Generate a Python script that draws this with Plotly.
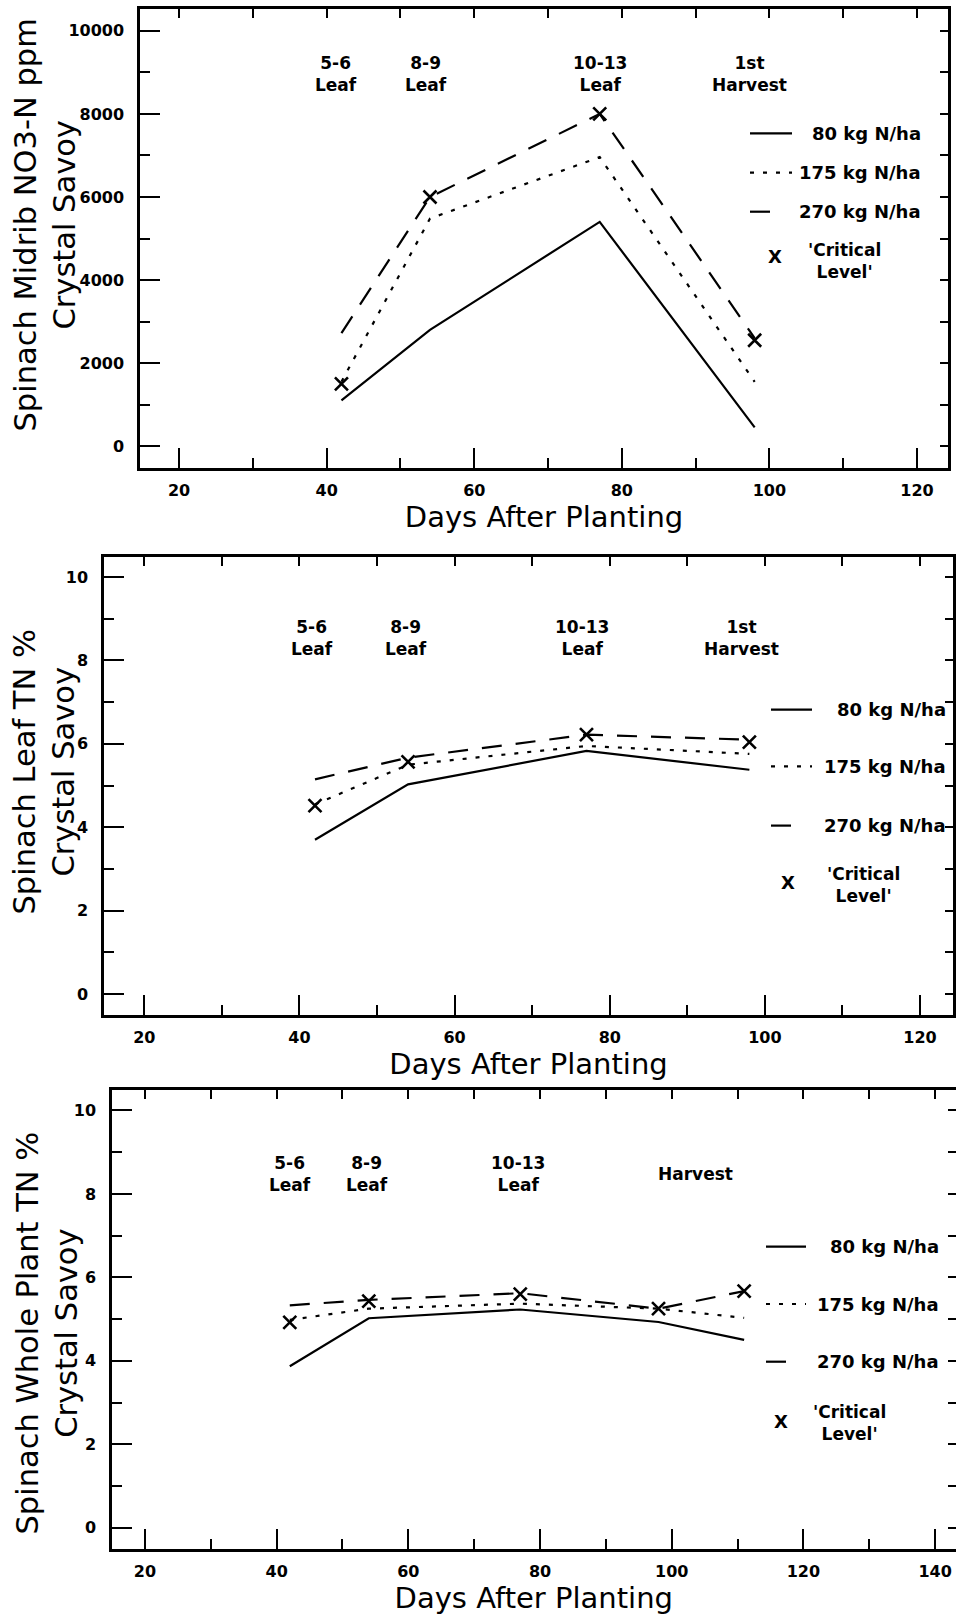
import plotly.graph_objects as go

# ---------------- data ----------------
days = [42, 54, 77, 98]
days_wp = [42, 54, 77, 98, 111]

midrib_80 = [1100, 2800, 5400, 450]
midrib_175 = [1550, 5480, 6960, 1550]
midrib_270 = [2720, 6000, 8000, 2600]
midrib_crit = [1500, 6000, 8000, 2550]

leaf_80 = [3.70, 5.03, 5.83, 5.38]
leaf_175 = [4.55, 5.50, 5.95, 5.76]
leaf_270 = [5.15, 5.67, 6.22, 6.10]
leaf_crit = [4.52, 5.57, 6.22, 6.04]

wp_80 = [3.87, 5.02, 5.23, 4.93, 4.50]
wp_175 = [4.98, 5.25, 5.37, 5.25, 5.03]
wp_270 = [5.33, 5.46, 5.62, 5.25, 5.67]
wp_crit = [4.92, 5.43, 5.60, 5.25, 5.67]

series_names = ["80 kg N/ha", "175 kg N/ha", "270 kg N/ha"]
crit_name = "'Critical<br>Level'"

stage_text_ab = ["5-6<br>Leaf", "8-9<br>Leaf", "10-13<br>Leaf", "1st<br>Harvest"]
stage_text_c = ["5-6<br>Leaf", "8-9<br>Leaf", "10-13<br>Leaf", "Harvest"]
stage_x_a = [41.3, 53.5, 77.0, 97.3]
stage_x_b = [41.6, 53.7, 76.4, 97.0]
stage_x_c = [42.0, 53.8, 76.7, 103.6]

x_ticks_ab = [20, 40, 60, 80, 100, 120]
x_ticks_c = [20, 40, 60, 80, 100, 120, 140]
y_ticks_midrib = [0, 2000, 4000, 6000, 8000, 10000]
y_ticks_pct = [0, 2, 4, 6, 8, 10]

y_titles = [
    "Spinach Midrib NO3-N ppm<br>Crystal Savoy",
    "Spinach Leaf TN %<br>Crystal Savoy",
    "Spinach Whole Plant TN %<br>Crystal Savoy",
]
x_title = "Days After Planting"

# ---------------- layout helpers ----------------
W, H = 956, 1615
FONT = "DejaVu Sans"
def fx(px):
    return px / W
def fy(py):
    return 1 - py / H

dash_styles = ["solid", "4px,9px", "20px,14px"]

panels = [
    dict(x=days, ys=[midrib_80, midrib_175, midrib_270], crit=midrib_crit,
         xdom=(140, 948), ydom=(9, 468), xr=[14.7, 124.2], yr=[-527, 10527],
         xt=x_ticks_ab, yt=y_ticks_midrib, xminor=10, yminor=1000,
         ytitle=y_titles[0], ytitle_pos=(44.5, 225),
         stage_x=stage_x_a, stage_text=stage_text_ab, stage_py=73.5,
         leg=dict(lx=(750, 792), rows=(133.3, 172.7, 211.7), tr=923,
                  xm=(775, 256.7), ct=(844, 261))),
    dict(x=days, ys=[leaf_80, leaf_175, leaf_270], crit=leaf_crit,
         xdom=(104, 953), ydom=(557, 1015), xr=[14.8, 124.25], yr=[-0.5, 10.48],
         xt=x_ticks_ab, yt=y_ticks_pct, xminor=10, yminor=1,
         ytitle=y_titles[1], ytitle_pos=(43.5, 772),
         stage_x=stage_x_b, stage_text=stage_text_ab, stage_py=638,
         leg=dict(lx=(771, 812), rows=(709.7, 766.3, 825.6), tr=948,
                  xm=(788, 882.9), ct=(863.5, 884.7))),
    dict(x=days_wp, ys=[wp_80, wp_175, wp_270], crit=wp_crit,
         xdom=(112, 955.5), ydom=(1090, 1549), xr=[15.0, 143.1], yr=[-0.51, 10.49],
         xt=x_ticks_c, yt=y_ticks_pct, xminor=10, yminor=1,
         ytitle=y_titles[2], ytitle_pos=(46.5, 1333),
         stage_x=stage_x_c, stage_text=stage_text_c, stage_py=1173.5,
         leg=dict(lx=(766, 806), rows=(1246.7, 1304, 1361.7), tr=941,
                  xm=(781, 1421), ct=(849, 1422.8))),
]

fig = go.Figure()
layout = dict(
    width=W, height=H, margin=dict(l=0, r=0, t=0, b=0),
    paper_bgcolor="white", plot_bgcolor="white", showlegend=False,
    font=dict(family=FONT, color="black"),
)
annotations = []
shapes = []

tick_font = dict(family=FONT, size=16, color="black", weight="bold")

for i, p in enumerate(panels, start=1):
    xa = "x" if i == 1 else f"x{i}"
    ya = "y" if i == 1 else f"y{i}"
    xkey = "xaxis" if i == 1 else f"xaxis{i}"
    ykey = "yaxis" if i == 1 else f"yaxis{i}"
    tx = f"x{i + 3}"
    ty = f"y{i + 3}"
    # data lines
    for ys, dsh, nm in zip(p["ys"], dash_styles, series_names):
        fig.add_trace(go.Scatter(x=p["x"], y=ys, mode="lines", name=nm,
                                 line=dict(color="black", width=2.2, dash=dsh),
                                 xaxis=xa, yaxis=ya))
    fig.add_trace(go.Scatter(x=p["x"], y=p["crit"], mode="markers", name="'Critical Level'",
                             marker=dict(symbol="x-thin", size=13, color="black",
                                         line=dict(color="black", width=2.6)),
                             xaxis=xa, yaxis=ya))
    # empty traces so the frame axes (top / right) are drawn
    fig.add_trace(go.Scatter(x=[], y=[], xaxis=tx, yaxis=ya, showlegend=False, hoverinfo="skip"))
    fig.add_trace(go.Scatter(x=[], y=[], xaxis=xa, yaxis=ty, showlegend=False, hoverinfo="skip"))

    xdom = [fx(p["xdom"][0]), fx(p["xdom"][1])]
    ydom = [fy(p["ydom"][1]), fy(p["ydom"][0])]
    layout[xkey] = dict(
        domain=xdom, anchor=ya, range=p["xr"], tickmode="array", tickvals=p["xt"],
        ticktext=[str(v) for v in p["xt"]],
        ticks="inside", ticklen=20, tickwidth=2, tickcolor="black",
        minor=dict(ticks="inside", ticklen=10, tickwidth=2, tickcolor="black",
                   dtick=p["xminor"], tick0=0),
        showline=True, linewidth=2.5, linecolor="black", mirror=False,
        showgrid=False, zeroline=False, tickfont=tick_font, ticklabelstandoff=6,
        title=dict(text=x_title, font=dict(family=FONT, size=29, color="black"), standoff=5),
    )
    layout[ykey] = dict(
        domain=ydom, anchor=xa, range=p["yr"], tickmode="array", tickvals=p["yt"],
        ticktext=[str(v) for v in p["yt"]],
        ticks="inside", ticklen=20, tickwidth=2, tickcolor="black",
        minor=dict(ticks="inside", ticklen=10, tickwidth=2, tickcolor="black",
                   dtick=p["yminor"], tick0=0),
        showline=True, linewidth=2.5, linecolor="black", mirror=False,
        showgrid=False, zeroline=False, tickfont=tick_font, ticklabelstandoff=10,
    )
    # overlay axes for the top and right frame with short ticks
    layout[f"xaxis{i + 3}"] = dict(
        overlaying=xa, anchor=ya, side="top", range=p["xr"], dtick=p["xminor"], tick0=0,
        ticks="inside", ticklen=9, tickwidth=2, tickcolor="black", showticklabels=False,
        showline=True, linewidth=2.5, linecolor="black", showgrid=False, zeroline=False,
    )
    layout[f"yaxis{i + 3}"] = dict(
        overlaying=ya, anchor=xa, side="right", range=p["yr"], dtick=p["yminor"], tick0=0,
        ticks="inside", ticklen=8, tickwidth=2, tickcolor="black", showticklabels=False,
        showline=True, linewidth=2.5, linecolor="black", showgrid=False, zeroline=False,
    )
    # y title
    annotations.append(dict(
        text=p["ytitle"], textangle=-90, xref="paper", yref="paper",
        x=fx(p["ytitle_pos"][0]), y=fy(p["ytitle_pos"][1]), xanchor="center", yanchor="middle",
        showarrow=False, font=dict(family=FONT, size=30.5, color="black"),
    ))
    # growth stage labels
    for sx, st in zip(p["stage_x"], p["stage_text"]):
        annotations.append(dict(
            text=st, xref=xa, yref="paper", x=sx, y=fy(p["stage_py"]),
            xanchor="center", yanchor="middle", showarrow=False,
            font=dict(family=FONT, size=17, color="black", weight="bold"),
        ))
    # legend (drawn manually, as in the original figure)
    lg = p["leg"]
    for ry, dsh, nm in zip(lg["rows"], dash_styles, series_names):
        x1 = lg["lx"][1] if dsh != "20px,14px" else lg["lx"][0] + 20
        shapes.append(dict(type="line", xref="paper", yref="paper",
                           x0=fx(lg["lx"][0]), x1=fx(x1), y0=fy(ry), y1=fy(ry),
                           line=dict(color="black", width=2.2, dash=dsh)))
        annotations.append(dict(text=nm, xref="paper", yref="paper", x=fx(lg["tr"]), y=fy(ry),
                                xanchor="right", yanchor="middle", showarrow=False,
                                font=dict(family=FONT, size=18, color="black", weight="bold")))
    annotations.append(dict(text="X", xref="paper", yref="paper", x=fx(lg["xm"][0]), y=fy(lg["xm"][1]),
                            xanchor="center", yanchor="middle", showarrow=False,
                            font=dict(family=FONT, size=18, color="black", weight="bold")))
    annotations.append(dict(text=crit_name, xref="paper", yref="paper", x=fx(lg["ct"][0]), y=fy(lg["ct"][1]),
                            xanchor="center", yanchor="middle", showarrow=False,
                            font=dict(family=FONT, size=17, color="black", weight="bold")))

layout["annotations"] = annotations
layout["shapes"] = shapes
fig.update_layout(**layout)
fig.write_html("out.html")
